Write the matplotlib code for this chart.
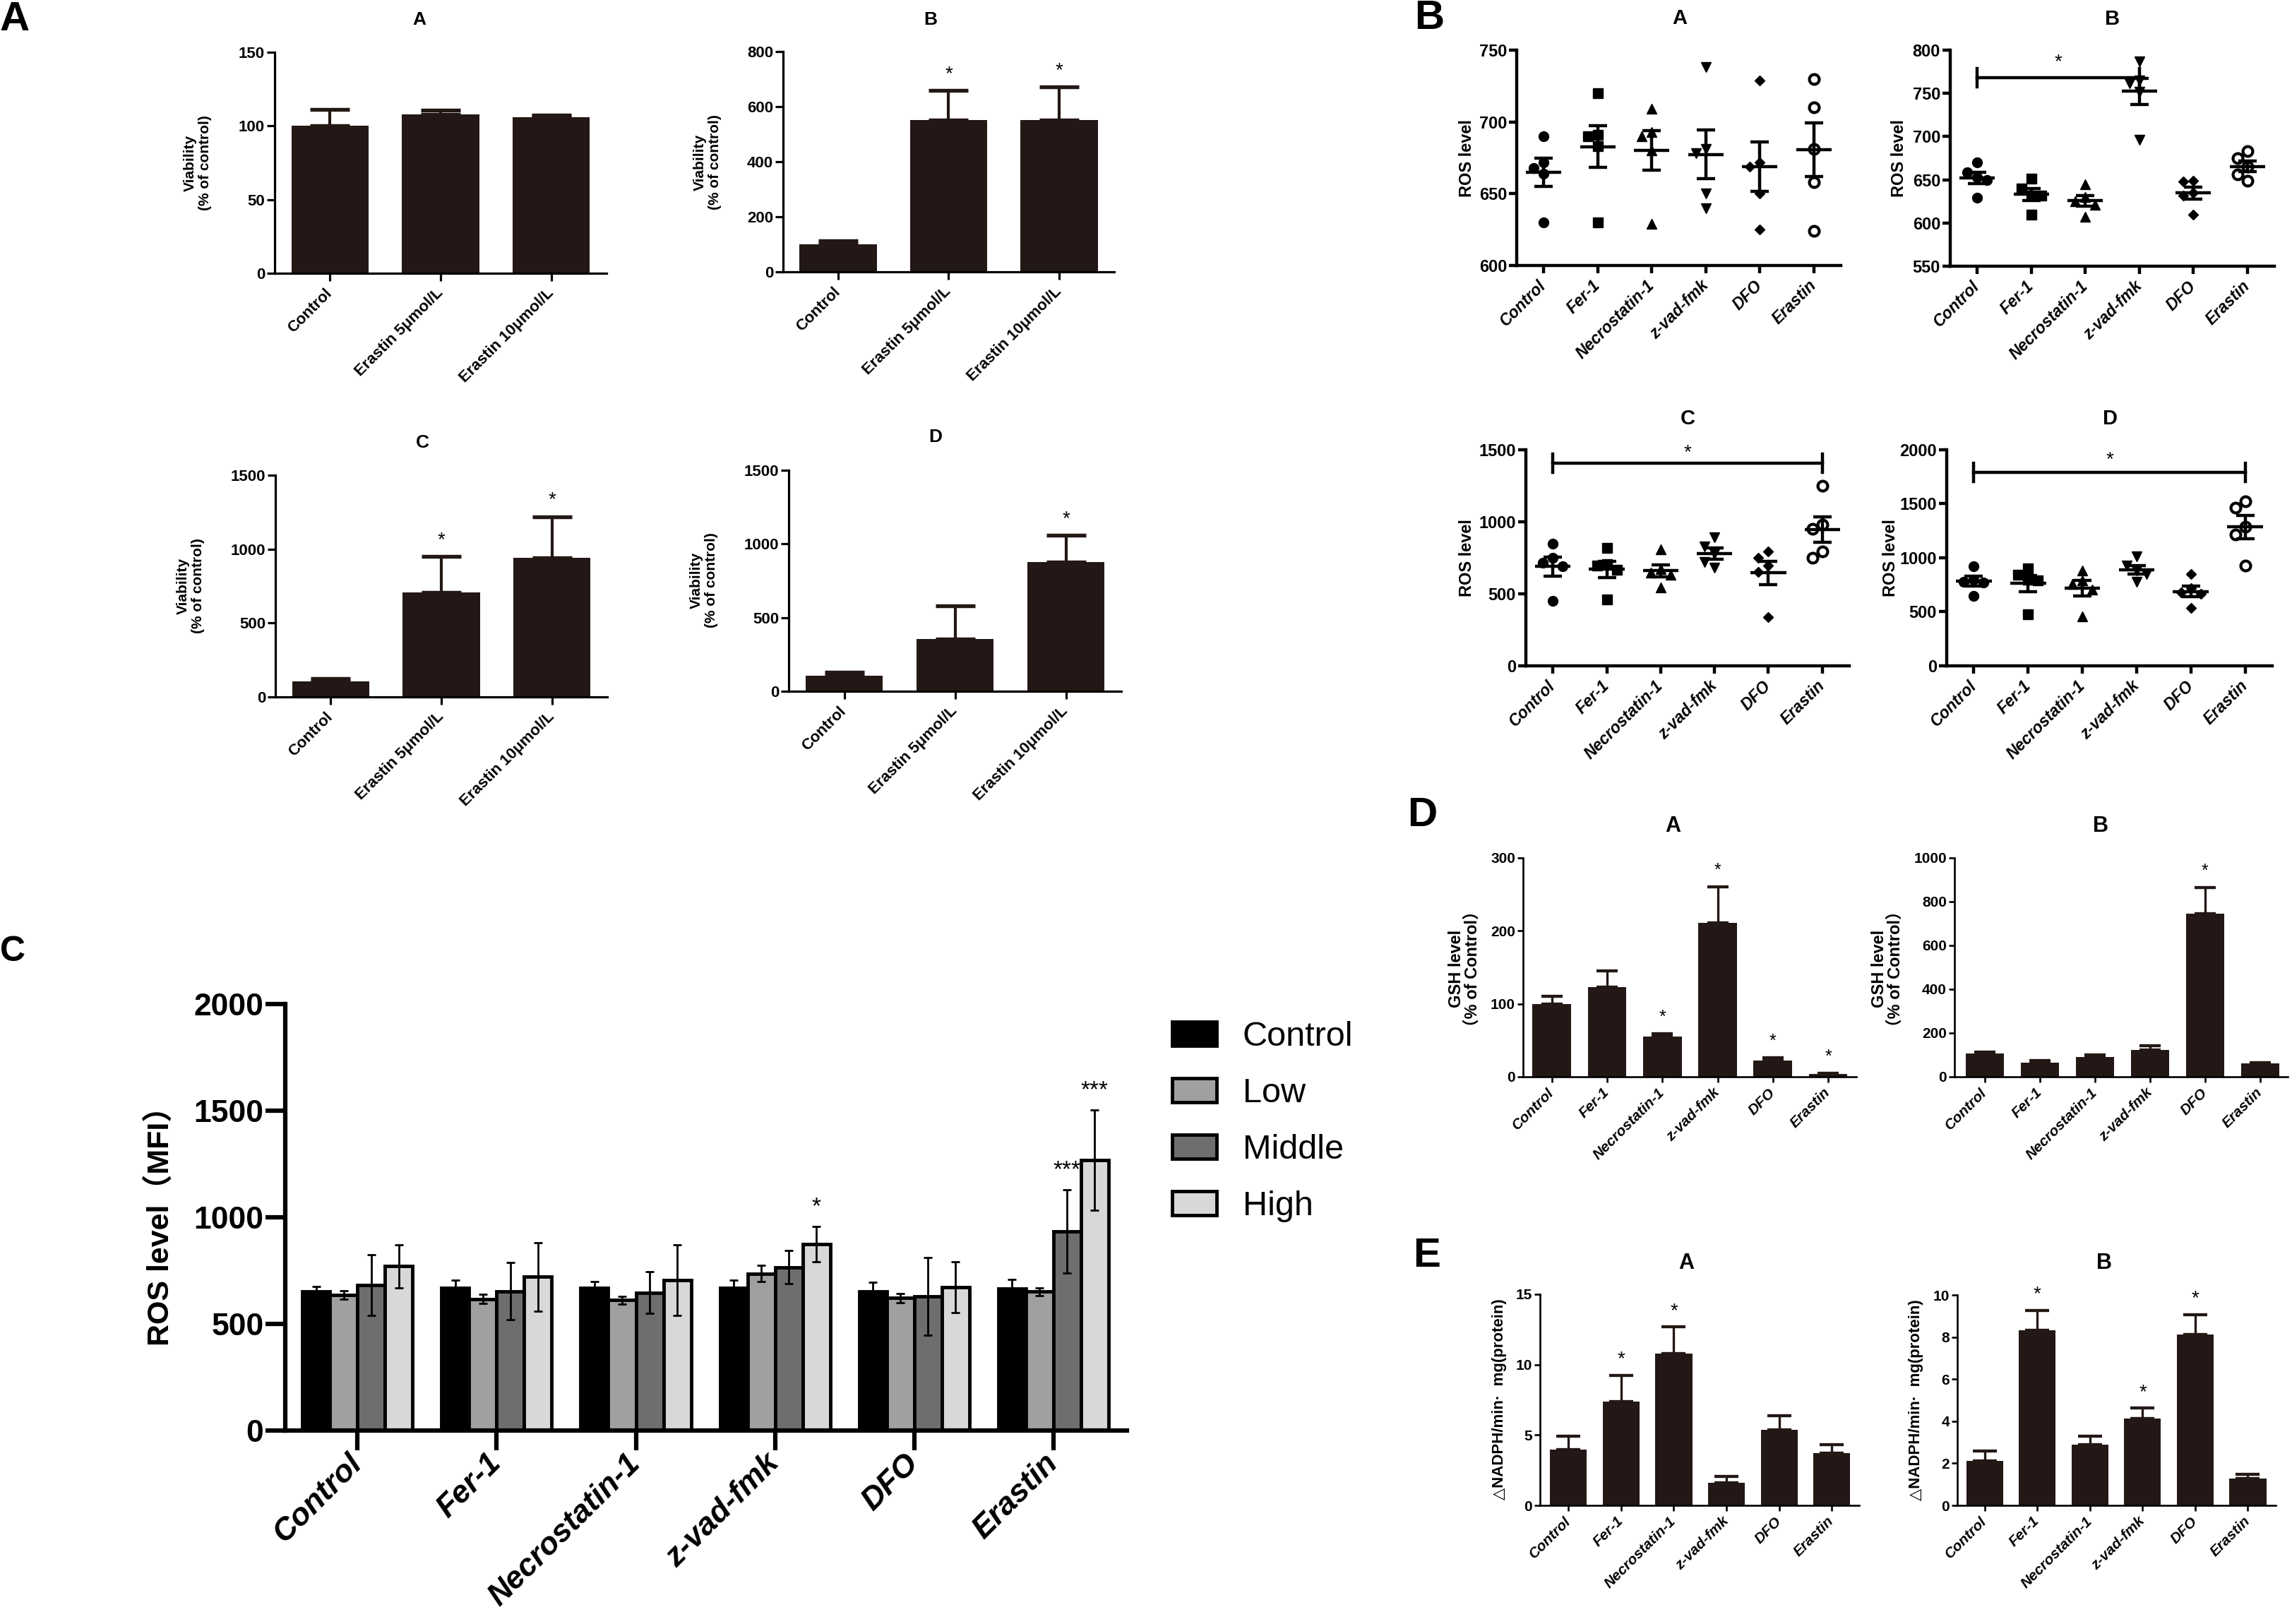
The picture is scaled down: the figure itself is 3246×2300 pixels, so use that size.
import numpy as np
import matplotlib
matplotlib.use("Agg")
import matplotlib.pyplot as plt
from matplotlib.patches import Patch

W, H = 3246, 2300
INK = "#231815"

plt.rcParams["font.family"] = ["Liberation Sans", "DejaVu Sans"]
plt.rcParams["font.weight"] = "bold"
plt.rcParams["axes.labelweight"] = "bold"

# ---------------- data ----------------
via_labels = ["Control", "Erastin 5μmol/L", "Erastin 10μmol/L"]
via_a = [100, 108, 106]
via_a_err = [11, 2.5, 1.5]
via_a_sig = ["", "", ""]
via_b = [100, 551, 551]
via_b_err = [12, 107, 120]
via_b_sig = ["", "*", "*"]
via_c = [104, 708, 943]
via_c_err = [22, 241, 274]
via_c_sig = ["", "*", "*"]
via_d = [104, 354, 875]
via_d_err = [23, 224, 182]
via_d_sig = ["", "", "*"]

drugs = ["Control", "Fer-1", "Necrostatin-1", "z-vad-fmk", "DFO", "Erastin"]

# ROS level, 5 replicates per drug
ros_a = [[690, 672, 668, 664, 630], [720, 691, 690, 683, 630],
         [709, 693, 690, 680, 629], [738, 681, 678, 650, 640],
         [729, 672, 669, 650, 625], [730, 710, 681, 658, 624]]
ros_b = [[670, 659, 653, 650, 629], [651, 640, 632, 632, 610],
         [645, 630, 625, 621, 607], [787, 765, 762, 752, 696],
         [649, 648, 635, 632, 610], [683, 675, 665, 656, 649]]
ros_c = [[846, 750, 715, 692, 449], [820, 705, 695, 666, 461],
         [811, 670, 645, 630, 543], [890, 830, 780, 720, 680],
         [794, 750, 694, 650, 338], [1249, 981, 951, 794, 750]]
ros_d = [[923, 800, 780, 770, 650], [900, 840, 800, 790, 480],
         [883, 790, 760, 708, 460], [1012, 930, 880, 850, 778],
         [848, 720, 680, 665, 533], [1526, 1467, 1285, 1215, 930]]

# ROS (MFI) by dose
doses = ["Control", "Low", "Middle", "High"]
mfi_control = [651, 668, 668, 668, 653, 664]
mfi_control_err = [23, 38, 32, 38, 43, 46]
mfi_low = [636, 617, 611, 736, 621, 651]
mfi_low_err = [21, 21, 19, 38, 22, 17]
mfi_middle = [681, 653, 647, 766, 630, 935]
mfi_middle_err = [142, 134, 97, 78, 182, 195]
mfi_high = [770, 721, 706, 874, 672, 1268]
mfi_high_err = [102, 161, 166, 82, 119, 234]
mfi_middle_sig = ["", "", "", "", "", "***"]
mfi_high_sig = ["", "", "", "*", "", "***"]

# GSH level (% of control)
gsh_a = [100, 123, 55, 211, 22.5, 4]
gsh_a_err = [10, 22, 4, 49, 4, 0.6]
gsh_a_sig = ["", "", "*", "*", "*", "*"]
gsh_b = [105, 66, 90, 123, 746, 61]
gsh_b_err = [9, 9, 10, 19, 118, 5]
gsh_b_sig = ["", "", "", "", "*", ""]

# NADPH
nadph_a = [3.98, 7.35, 10.77, 1.59, 5.38, 3.69]
nadph_a_err = [0.95, 1.9, 1.91, 0.45, 0.97, 0.63]
nadph_a_sig = ["", "*", "*", "", "", ""]
nadph_b = [2.13, 8.33, 2.9, 4.13, 8.11, 1.28]
nadph_b_err = [0.47, 0.94, 0.39, 0.49, 0.95, 0.21]
nadph_b_sig = ["", "*", "", "*", "*", ""]

fig = plt.figure(figsize=(W / 100, H / 100), dpi=100)


def box(l, t, r, b):
    # axes from pixel edges (top = highest tick, bottom = x axis line)
    return fig.add_axes([l / W, 1 - b / H, (r - l) / W, (b - t) / H])


def put(x, y, s, **kw):
    fig.text(x / W, 1 - y / H, s, **kw)


def style(ax, ylim, step, xlim, labels, lw, tlen, tfs, lfs, italic, pad):
    for sp in ["top", "right"]:
        ax.spines[sp].set_visible(False)
    for sp in ["left", "bottom"]:
        ax.spines[sp].set_linewidth(lw)
    ax.set_ylim(*ylim)
    ax.set_yticks(np.arange(ylim[0], ylim[1] + step / 2, step))
    ax.set_xlim(*xlim)
    ax.set_xticks(range(len(labels)))
    ax.set_xticklabels(labels, rotation=45, ha="right", va="center",
                       rotation_mode="anchor", fontsize=lfs,
                       fontstyle="italic" if italic else "normal")
    ax.tick_params(axis="y", length=tlen, width=lw, labelsize=tfs, pad=2)
    ax.tick_params(axis="x", length=tlen, width=lw, pad=pad)
    ax.set_facecolor("none")


def bars(ax, vals, errs, sig, ymax, cap, elw, sfs):
    x = np.arange(len(vals))
    ax.bar(x, vals, width=0.7, color=INK, zorder=2)
    ax.errorbar(x, vals, yerr=[np.zeros(len(vals)), errs], fmt="none",
                ecolor=INK, elinewidth=elw, capsize=cap, capthick=elw * 1.3,
                zorder=3)
    for xi, v, e, s in zip(x, vals, errs, sig):
        if s:
            ax.text(xi, v + e + 0.075 * ymax, s, ha="center", va="center",
                    fontsize=sfs, fontweight="normal")


def swarm(ax, xc, vals, d=14):
    pts = ax.transData.transform(np.column_stack([np.full(len(vals), xc), vals]))
    placed = []
    for px, py in pts:
        for k in [0, -1, 1, -2, 2, -3, 3]:
            cx = px + k * d
            if all((cx - qx) ** 2 + (py - qy) ** 2 >= d * d for qx, qy in placed):
                break
        placed.append((cx, py))
    back = ax.transData.inverted().transform(np.array(placed))
    return back[:, 0]


def dots(ax, groups):
    marks = ["o", "s", "^", "v", "D", "o"]
    sizes = [10, 9.5, 10, 10, 7.5, 10]
    for i, vals in enumerate(groups):
        xs = swarm(ax, i, vals)
        face = "white" if i == 5 else "black"
        ax.plot(xs, vals, ls="none", marker=marks[i], ms=sizes[i], mfc=face,
                mec="black", mew=3 if i == 5 else 1, zorder=3)
        m = np.mean(vals)
        sem = np.std(vals, ddof=1) / np.sqrt(len(vals))
        ax.hlines(m, i - 0.33, i + 0.33, color="black", lw=3.2, zorder=4)
        ax.errorbar(i, m, yerr=sem, fmt="none", ecolor="black", elinewidth=3.2,
                    capsize=9.5, capthick=3.2, zorder=4)


def sig_bar(ax, x0, x1, y, h, ty):
    ax.plot([x0, x1], [y, y], color="black", lw=3.2)
    ax.plot([x0, x0], [y - h, y + h], color="black", lw=3.2)
    ax.plot([x1, x1], [y - h, y + h], color="black", lw=3.2)
    ax.text((x0 + x1) / 2, ty, "*", ha="center", va="center", fontsize=20,
            fontweight="normal")


# ---------------- panel A: viability ----------------
put(0, 43, "A", fontsize=42, ha="left", va="baseline")
via_sets = [
    ((389, 74, 859, 387), "A", (594, 28), (280, 231), via_a, via_a_err, via_a_sig, 150, 50),
    ((1109, 73, 1578, 385), "B", (1318, 28), (1002, 230), via_b, via_b_err, via_b_sig, 800, 200),
    ((390, 673, 860, 987), "C", (598, 627), (270, 830), via_c, via_c_err, via_c_sig, 1500, 500),
    ((1117, 666, 1588, 979), "D", (1325, 619), (997, 822), via_d, via_d_err, via_d_sig, 1500, 500),
]
for bx, ttl, tpos, lpos, vals, errs, sig, ymax, step in via_sets:
    ax = box(*bx)
    bars(ax, vals, errs, sig, ymax, cap=20, elw=3, sfs=20)
    style(ax, (0, ymax), step, (-0.5, 2.5), via_labels, 2.3, 8, 16, 16, False, 10)
    put(*tpos, ttl, fontsize=19, ha="center", va="center")
    put(*lpos, "Viability\n(% of control)", fontsize=15, ha="center", va="center",
        rotation=90, linespacing=1.1)

# ---------------- panel B: ROS scatter ----------------
put(2003, 41, "B", fontsize=42, ha="left", va="baseline")
ros_sets = [
    ((2148, 71, 2607, 376), "A", (2379, 26), (2078, 224), ros_a, (600, 750), 50),
    ((2762, 71, 3221, 377), "B", (2992, 27), (2690, 224), ros_b, (550, 800), 50),
    ((2161, 637, 2619, 943), "C", (2390, 593), (2078, 790), ros_c, (0, 1500), 500),
    ((2757, 637, 3218, 943), "D", (2988, 593), (2677, 790), ros_d, (0, 2000), 500),
]
ros_axes = []
for bx, ttl, tpos, lpos, groups, ylim, step in ros_sets:
    ax = box(*bx)
    style(ax, ylim, step, (-0.5, 5.5), drugs, 3.2, 8, 17, 16.5, True, 10)
    dots(ax, groups)
    put(*tpos, ttl, fontsize=21, ha="center", va="center")
    put(*lpos, "ROS level", fontsize=17, ha="center", va="center", rotation=90)
    ros_axes.append(ax)
sig_bar(ros_axes[1], 0, 3, 768, 10.5, 786)
sig_bar(ros_axes[2], 0, 5, 1407, 66, 1480)
sig_bar(ros_axes[3], 0, 5, 1794, 85, 1905)

# ---------------- panel C: ROS (MFI) grouped bars ----------------
put(0, 1361, "C", fontsize=36, ha="left", va="baseline")
ax = box(404, 1422, 1596, 2026)
x = np.arange(len(drugs))
width = 0.198
series = [(mfi_control, mfi_control_err, None), (mfi_low, mfi_low_err, None),
          (mfi_middle, mfi_middle_err, mfi_middle_sig), (mfi_high, mfi_high_err, mfi_high_sig)]
colors = ["#000000", "#a0a0a0", "#6e6e6e", "#d8d8d8"]
for k, (vals, errs, sig) in enumerate(series):
    xk = x + (k - 1.5) * width
    ax.bar(xk, vals, width, color=colors[k], edgecolor="black", linewidth=3.5, zorder=2)
    ax.errorbar(xk, vals, yerr=errs, fmt="none", ecolor="black", elinewidth=2,
                capsize=4.5, capthick=2, zorder=3)
    if sig:
        for xi, v, e, s in zip(xk, vals, errs, sig):
            if s:
                ax.text(xi, v + e + 90, s, ha="center", va="center", fontsize=24,
                        fontweight="normal")
style(ax, (0, 2000), 500, (-0.52, 5.53), drugs, 4.5, 20, 32, 32, True, 9)
put(227, 1726, "ROS level（MFI）", fontsize=31, ha="center", va="center", rotation=90,
    family=["Liberation Sans", "Noto Sans CJK SC"])
handles = [Patch(facecolor=c, edgecolor="black", linewidth=3.5, label=n)
           for c, n in zip(colors, doses)]
ax.legend(handles=handles, loc="upper left", bbox_to_anchor=(1660 / W, 1 - 1446 / H),
          bbox_transform=fig.transFigure, frameon=False,
          prop={"size": 35, "weight": "normal"}, handlelength=1.3,
          handleheight=0.72, handletextpad=0.75, labelspacing=0.72,
          borderpad=0, borderaxespad=0)

# ---------------- panel D: GSH ----------------
put(1993, 1170, "D", fontsize=42, ha="left", va="baseline")
gsh_sets = [
    ((2157, 1215, 2629, 1525), "A", (2369, 1170), (2074, 1372), gsh_a, gsh_a_err, gsh_a_sig, 300, 100, (-0.52, 5.51)),
    ((2768, 1215, 3240, 1525), "B", (2975, 1170), (2673, 1372), gsh_b, gsh_b_err, gsh_b_sig, 1000, 200, (-0.55, 5.5)),
]
for bx, ttl, tpos, lpos, vals, errs, sig, ymax, step, xl in gsh_sets:
    ax = box(*bx)
    bars(ax, vals, errs, sig, ymax, cap=11, elw=2.4, sfs=18)
    style(ax, (0, ymax), step, xl, drugs, 1.9, 6, 15, 15, True, 8)
    put(*tpos, ttl, fontsize=22, ha="center", va="center")
    put(*lpos, "GSH level\n（% of Control）", fontsize=17, ha="center", va="center",
        rotation=90, linespacing=1.0, family=["Liberation Sans", "Noto Sans CJK SC"])

# ---------------- panel E: NADPH ----------------
put(2001, 1794, "E", fontsize=42, ha="left", va="baseline")
nadph_sets = [
    ((2181, 1833, 2633, 2132), "A", (2388, 1789), (2124, 1982), nadph_a, nadph_a_err, nadph_a_sig, 15, 5, (-0.54, 5.52)),
    ((2772, 1834, 3223, 2132), "B", (2980, 1789), (2714, 1983), nadph_b, nadph_b_err, nadph_b_sig, 10, 2, (-0.52, 5.53)),
]
for bx, ttl, tpos, lpos, vals, errs, sig, ymax, step, xl in nadph_sets:
    ax = box(*bx)
    bars(ax, vals, errs, sig, ymax, cap=12, elw=2.4, sfs=20)
    style(ax, (0, ymax), step, xl, drugs, 1.9, 6, 15, 15, True, 8)
    put(*tpos, ttl, fontsize=22, ha="center", va="center")
    put(*lpos, "△NADPH/min·  mg(protein)", fontsize=16, ha="center", va="center",
        rotation=90, family=["Liberation Sans", "DejaVu Sans"])

fig.savefig("out.png", dpi=100)
